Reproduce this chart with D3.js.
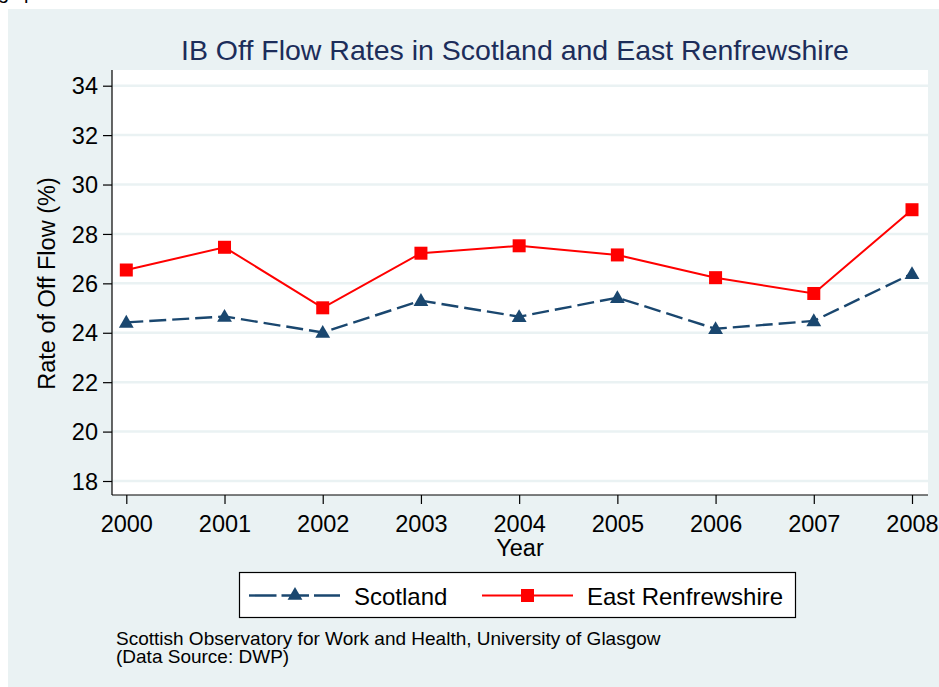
<!DOCTYPE html>
<html>
<head>
<meta charset="utf-8">
<script src="https://cdn.jsdelivr.net/npm/d3@7"></script>
<style>
  html, body { margin: 0; padding: 0; background: #ffffff; }
  svg { display: block; font-family: "Liberation Sans", Arial, sans-serif; }
</style>
</head>
<body>
<svg id="chart" width="939" height="687"></svg>
<script>
const years = [2000, 2001, 2002, 2003, 2004, 2005, 2006, 2007, 2008];
const scotland = [24.42, 24.66, 24.01, 25.3, 24.65, 25.42, 24.16, 24.48, 26.39];
const eastRenfrewshire = [26.54, 27.46, 25.01, 27.22, 27.52, 27.15, 26.23, 25.59, 28.98];
const yTicks = [18, 20, 22, 24, 26, 28, 30, 32, 34];
const seriesNames = ["Scotland", "East Renfrewshire"];
const titleText = "IB Off Flow Rates in Scotland and East Renfrewshire";
const yTitle = "Rate of Off Flow (%)";
const xTitle = "Year";
const noteLines = ["Scottish Observatory for Work and Health, University of Glasgow", "(Data Source: DWP)"];

const svg = d3.select("#chart");
const bg = "#eaf2f3";
const navy = "#1a476f";
const red = "#ff0000";
const font = "'Liberation Sans', Arial, sans-serif";

// cut-off text at top-left
svg.append("text").attr("x", -2).attr("y", -1).attr("font-size", 20).attr("fill", "#000").text("g");
svg.append("text").attr("x", 24).attr("y", -1).attr("font-size", 20).attr("fill", "#000").text("p");

// outer panel
svg.append("rect").attr("x", 8).attr("y", 9).attr("width", 939 - 8).attr("height", 687 - 9).attr("fill", bg);

const plot = { left: 112, right: 928, top: 70, bottom: 495 };
svg.append("rect").attr("x", plot.left).attr("y", plot.top)
  .attr("width", plot.right - plot.left).attr("height", plot.bottom - plot.top).attr("fill", "#fff");

const x = d3.scaleLinear().domain([2000, 2008]).range([126.3, 912]);
const y = d3.scaleLinear().domain([18, 34]).range([481, 85.7]);

// gridlines
svg.append("g").selectAll("line").data(yTicks).join("line")
  .attr("x1", plot.left).attr("x2", plot.right)
  .attr("y1", d => y(d)).attr("y2", d => y(d))
  .attr("stroke", bg).attr("stroke-width", 2.5);

// y axis
const yAxis = d3.axisLeft(y).tickValues(yTicks).tickSize(9).tickPadding(5).tickFormat(d3.format("d"));
const gy = svg.append("g").attr("transform", `translate(${plot.left},0)`).call(yAxis);
gy.select(".domain").attr("d", `M0,${plot.top}V${plot.bottom}`).attr("stroke", "#000").attr("stroke-width", 1.2);
gy.selectAll(".tick line").attr("stroke", "#000").attr("stroke-width", 1.2);
gy.selectAll(".tick text").attr("font-size", 23.5).attr("fill", "#000")
  .attr("font-family", font).attr("dy", "0.35em");

// x axis
const xAxis = d3.axisBottom(x).tickValues(years).tickSize(9).tickPadding(11).tickFormat(d3.format("d"));
const gx = svg.append("g").attr("transform", `translate(0,${plot.bottom})`).call(xAxis);
gx.select(".domain").attr("d", `M${plot.left},0H${plot.right}`).attr("stroke", "#000").attr("stroke-width", 1.2);
gx.selectAll(".tick line").attr("stroke", "#000").attr("stroke-width", 1.2);
gx.selectAll(".tick text").attr("font-size", 23.5).attr("fill", "#000")
  .attr("font-family", font);

// titles
svg.append("text").attr("x", 515).attr("y", 60).attr("text-anchor", "middle")
  .attr("font-size", 28.5).attr("fill", "#1c2d5a").text(titleText);
svg.append("text").attr("x", 520).attr("y", 556).attr("text-anchor", "middle")
  .attr("font-size", 23.5).attr("fill", "#000").text(xTitle);
svg.append("text").attr("transform", "translate(55,283.5) rotate(-90)").attr("text-anchor", "middle")
  .attr("font-size", 23.5).attr("fill", "#000").text(yTitle);

// lines
const line = d3.line().x((d, i) => x(years[i])).y(d => y(d));
svg.append("path").datum(scotland).attr("d", line).attr("fill", "none")
  .attr("stroke", navy).attr("stroke-width", 2.4).attr("stroke-dasharray", "17,6");
svg.append("path").datum(eastRenfrewshire).attr("d", line).attr("fill", "none")
  .attr("stroke", red).attr("stroke-width", 2);

const tri = d3.symbol().type(d3.symbolTriangle).size(95);
svg.append("g").selectAll("path").data(scotland).join("path")
  .attr("d", tri).attr("transform", (d, i) => `translate(${x(years[i])},${y(d) + 1})`).attr("fill", navy);
svg.append("g").selectAll("rect").data(eastRenfrewshire).join("rect")
  .attr("x", (d, i) => x(years[i]) - 6.5).attr("y", d => y(d) - 6.5)
  .attr("width", 13).attr("height", 13).attr("fill", red);

// legend
const lg = svg.append("g");
lg.append("rect").attr("x", 239.5).attr("y", 572.5).attr("width", 556).attr("height", 45)
  .attr("fill", "#fff").attr("stroke", "#000").attr("stroke-width", 1.2);
const ly = 595.5;
lg.append("line").attr("x1", 249).attr("x2", 340).attr("y1", ly).attr("y2", ly)
  .attr("stroke", navy).attr("stroke-width", 2.4).attr("stroke-dasharray", "27.5,5");
lg.append("path").attr("d", tri).attr("transform", `translate(295,${ly})`).attr("fill", navy);
lg.append("text").attr("x", 354).attr("y", 605).attr("font-size", 24).attr("fill", "#000").text(seriesNames[0]);
lg.append("line").attr("x1", 482).attr("x2", 573).attr("y1", ly).attr("y2", ly)
  .attr("stroke", red).attr("stroke-width", 2);
lg.append("rect").attr("x", 521).attr("y", ly - 6.5).attr("width", 13).attr("height", 13).attr("fill", red);
lg.append("text").attr("x", 587).attr("y", 605).attr("font-size", 24).attr("fill", "#000").text(seriesNames[1]);

// note
svg.append("g").selectAll("text").data(noteLines).join("text")
  .attr("x", 116).attr("y", (d, i) => 645 + i * 18)
  .attr("font-size", 19).attr("fill", "#000").text(d => d);
</script>
</body>
</html>
